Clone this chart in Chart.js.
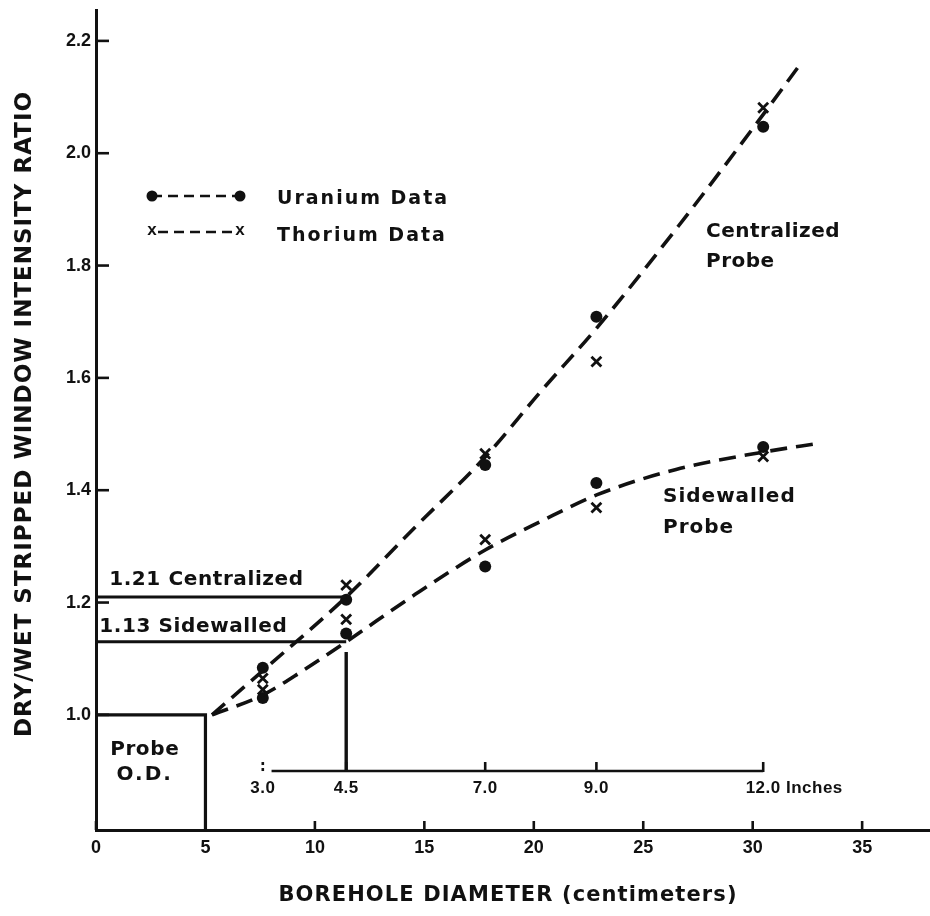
<!DOCTYPE html>
<html>
<head>
<meta charset="utf-8">
<script src="https://cdn.jsdelivr.net/npm/chart.js@4.4.1/dist/chart.umd.min.js"></script>
<style>
  html, body { margin: 0; padding: 0; background: #fff; }
  #wrap { width: 930px; height: 916px; position: relative; }
</style>
</head>
<body>
<div id="wrap"><canvas id="c" width="930" height="916"></canvas></div>
<script>
// Borehole sizes (inches) at which both probes were logged
const CM_PER_INCH = 2.54;
const boreholeInches = [3.0, 4.5, 7.0, 9.0, 12.0];
const boreholeCm = boreholeInches.map(v => v * CM_PER_INCH);

// Dry/wet stripped window intensity ratios
const uraniumCentralized = [1.084, 1.205, 1.445, 1.709, 2.047];
const uraniumSidewalled  = [1.030, 1.145, 1.264, 1.413, 1.477];
const thoriumCentralized = [1.065, 1.231, 1.465, 1.629, 2.081];
const thoriumSidewalled  = [1.045, 1.170, 1.312, 1.369, 1.460];

// Hand-fitted trend curves (borehole diameter in cm, ratio)
const centralizedCurveX = [5.3, 7.6, 11.43, 14.6, 17.8, 20.3, 22.9, 26.6, 30.5, 32.2];
const centralizedCurveY = [1.0, 1.078, 1.21, 1.335, 1.46, 1.575, 1.69, 1.87, 2.07, 2.16];
const sidewalledCurveX  = [5.3, 7.6, 9.5, 11.43, 14.6, 17.8, 20.3, 22.9, 26.5, 30.5, 33.1];
const sidewalledCurveY  = [1.0, 1.035, 1.08, 1.13, 1.215, 1.294, 1.344, 1.392, 1.437, 1.468, 1.484];

const probeOD_cm = 5.0;
const readInches = 4.5;
const centralizedRead = 1.21;
const sidewalledRead = 1.13;
const inchScaleLevel = 0.9;

// Axis ticks
const xTicks = [0, 5, 10, 15, 20, 25, 30, 35];
const yTicks = [1.0, 1.2, 1.4, 1.6, 1.8, 2.0, 2.2];
const xMin = 0, xMax = 38.1, yMin = 0.795, yMax = 2.255;

const pts = (xs, ys) => xs.map((x, i) => ({ x: x, y: ys[i] }));
const BLACK = '#111';
const TXT = "'DejaVu Sans', sans-serif";
const NUM = "'Liberation Sans', Arial, sans-serif";

const solid = (data, w) => ({
  data, showLine: true, pointRadius: 0, borderColor: BLACK, borderWidth: w,
  backgroundColor: BLACK, tension: 0, clip: false
});
const dashed = (data) => ({
  data, showLine: true, pointRadius: 0, borderColor: BLACK, borderWidth: 3.6,
  borderDash: [17, 9], cubicInterpolationMode: 'monotone', clip: false
});
const uraniumPts = (data) => ({
  data, showLine: false, pointStyle: 'circle', pointRadius: 6,
  backgroundColor: BLACK, borderColor: BLACK, borderWidth: 0, clip: false
});
const thoriumPts = (data) => ({
  data, showLine: false, pointStyle: 'crossRot', pointRadius: 7,
  backgroundColor: BLACK, borderColor: BLACK, borderWidth: 2.8, clip: false
});

const readX = readInches * CM_PER_INCH;

const datasets = [
  // probe O.D. box
  solid([{ x: 0, y: 1.0 }, { x: probeOD_cm, y: 1.0 }, { x: probeOD_cm, y: yMin }], 3.2),
  // read-off lines at 4.5 in
  solid([{ x: 0, y: centralizedRead }, { x: readX, y: centralizedRead }], 3),
  solid([{ x: 0, y: sidewalledRead }, { x: readX, y: sidewalledRead }], 3),
  solid([{ x: readX, y: sidewalledRead - 0.018 }, { x: readX, y: inchScaleLevel }], 3.4),
  // inch scale
  solid([{ x: boreholeCm[0] + 0.4, y: inchScaleLevel }, { x: boreholeCm[boreholeCm.length - 1], y: inchScaleLevel }], 2.6),
  // trend curves
  dashed(pts(centralizedCurveX, centralizedCurveY)),
  dashed(pts(sidewalledCurveX, sidewalledCurveY)),
  // measurements
  uraniumPts(pts(boreholeCm, uraniumCentralized)),
  uraniumPts(pts(boreholeCm, uraniumSidewalled)),
  thoriumPts(pts(boreholeCm, thoriumCentralized)),
  thoriumPts(pts(boreholeCm, thoriumSidewalled))
];

function txt(ctx, s, x, y, font, align, spacing) {
  ctx.font = font;
  ctx.textAlign = align || 'left';
  ctx.textBaseline = 'middle';
  ctx.letterSpacing = (spacing || 0) + 'px';
  ctx.fillText(s, x, y);
  ctx.letterSpacing = '0px';
}

const decorations = {
  id: 'decorations',
  afterDatasetsDraw(chart) {
    const ctx = chart.ctx;
    const xs = chart.scales.x, ys = chart.scales.y;
    const area = chart.chartArea;
    ctx.save();
    ctx.strokeStyle = BLACK;
    ctx.fillStyle = BLACK;
    ctx.lineCap = 'butt';

    // inward tick marks
    ctx.lineWidth = 2.6;
    yTicks.forEach(v => {
      const py = ys.getPixelForValue(v);
      ctx.beginPath(); ctx.moveTo(area.left, py); ctx.lineTo(area.left + 13, py); ctx.stroke();
    });
    xTicks.forEach(v => {
      const px = xs.getPixelForValue(v);
      ctx.beginPath(); ctx.moveTo(px, area.bottom); ctx.lineTo(px, area.bottom - 9); ctx.stroke();
    });

    // inch scale ticks and labels
    const iy = ys.getPixelForValue(inchScaleLevel);
    boreholeInches.forEach((inch, i) => {
      const px = xs.getPixelForValue(inch * CM_PER_INCH);
      if (i === 0) {
        ctx.setLineDash([3, 3]);
        ctx.beginPath(); ctx.moveTo(px, iy); ctx.lineTo(px, iy - 12); ctx.stroke();
        ctx.setLineDash([]);
      } else {
        ctx.beginPath(); ctx.moveTo(px, iy + 1); ctx.lineTo(px, iy - 9); ctx.stroke();
      }
      const label = inch.toFixed(1);
      if (i === boreholeInches.length - 1) {
        ctx.font = 'bold 17px ' + NUM;
        ctx.letterSpacing = '0.5px';
        const w = ctx.measureText(label).width;
        txt(ctx, label + ' Inches', px - w / 2, iy + 17, 'bold 17px ' + NUM, 'left', 0.5);
      } else {
        txt(ctx, label, px, iy + 17, 'bold 17px ' + NUM, 'center', 0.5);
      }
    });

    // read-off annotations
    const lx = xs.getPixelForValue(0.6);
    txt(ctx, centralizedRead.toFixed(2) + ' Centralized', lx, ys.getPixelForValue(centralizedRead) - 17, 'bold 20px ' + TXT, 'left', 0.6);
    txt(ctx, sidewalledRead.toFixed(2) + ' Sidewalled', xs.getPixelForValue(0.15), ys.getPixelForValue(sidewalledRead) - 15, 'bold 20px ' + TXT, 'left', 0.6);

    // probe O.D. label
    const pcx = xs.getPixelForValue(probeOD_cm / 2) - 6;
    txt(ctx, 'Probe', pcx, 750, 'bold 20px ' + TXT, 'center', 0.6);
    txt(ctx, 'O.D.', pcx, 775, 'bold 20px ' + TXT, 'center', 2);

    // curve labels
    txt(ctx, 'Centralized', 706, 232, 'bold 20px ' + TXT, 'left', 0.5);
    txt(ctx, 'Probe', 706, 262, 'bold 20px ' + TXT, 'left', 0.5);
    txt(ctx, 'Sidewalled', 663, 497, 'bold 20px ' + TXT, 'left', 1);
    txt(ctx, 'Probe', 663, 528, 'bold 20px ' + TXT, 'left', 1);

    // key
    const k0 = 152, k1 = 240;
    ctx.lineWidth = 2.6;
    ctx.setLineDash([10, 6]);
    ctx.beginPath(); ctx.moveTo(k0, 196); ctx.lineTo(k1, 196); ctx.stroke();
    ctx.beginPath(); ctx.moveTo(k0 + 6, 232); ctx.lineTo(k1 - 6, 232); ctx.stroke();
    ctx.setLineDash([]);
    [k0, k1].forEach(x => {
      ctx.beginPath(); ctx.arc(x, 196, 5.5, 0, Math.PI * 2); ctx.fill();
    });
    txt(ctx, 'x', k0, 230, 'bold 17px ' + NUM, 'center', 0);
    txt(ctx, 'x', k1, 230, 'bold 17px ' + NUM, 'center', 0);
    txt(ctx, 'Uranium Data', 277, 199, 'bold 19px ' + TXT, 'left', 2);
    txt(ctx, 'Thorium Data', 277, 236, 'bold 19px ' + TXT, 'left', 2);

    // axis titles
    txt(ctx, 'BOREHOLE DIAMETER (centimeters)', 508, 896, 'bold 21px ' + TXT, 'center', 1.1);
    ctx.save();
    ctx.translate(25, 414);
    ctx.rotate(-Math.PI / 2);
    txt(ctx, 'DRY/WET STRIPPED WINDOW INTENSITY RATIO', 0, 0, 'bold 23px ' + TXT, 'center', 1);
    ctx.restore();

    ctx.restore();
  }
};

new Chart(document.getElementById('c'), {
  type: 'scatter',
  data: { datasets },
  options: {
    responsive: false,
    animation: false,
    devicePixelRatio: 1,
    layout: { autoPadding: false, padding: { top: 10, left: 0, right: 0, bottom: 0 } },
    plugins: { legend: { display: false }, tooltip: { enabled: false } },
    scales: {
      x: {
        type: 'linear', min: xMin, max: xMax,
        grid: { display: false, drawTicks: false },
        border: { display: true, color: BLACK, width: 3 },
        afterBuildTicks: s => { s.ticks = xTicks.map(v => ({ value: v })); },
        afterFit: s => { s.height = 86; s.paddingLeft = 0; s.paddingRight = 0; },
        ticks: {
          padding: 7, color: BLACK, autoSkip: false, maxRotation: 0,
          font: { family: NUM, weight: 'bold', size: 18 },
          callback: v => String(v)
        }
      },
      y: {
        type: 'linear', min: yMin, max: yMax,
        grid: { display: false, drawTicks: false },
        border: { display: true, color: BLACK, width: 3 },
        afterBuildTicks: s => { s.ticks = yTicks.map(v => ({ value: v })); },
        afterFit: s => { s.width = 96; s.paddingTop = 0; s.paddingBottom = 0; },
        ticks: {
          padding: 5, color: BLACK, autoSkip: false,
          font: { family: NUM, weight: 'bold', size: 18 },
          callback: v => v.toFixed(1)
        }
      }
    }
  },
  plugins: [decorations]
});
</script>
</body>
</html>
